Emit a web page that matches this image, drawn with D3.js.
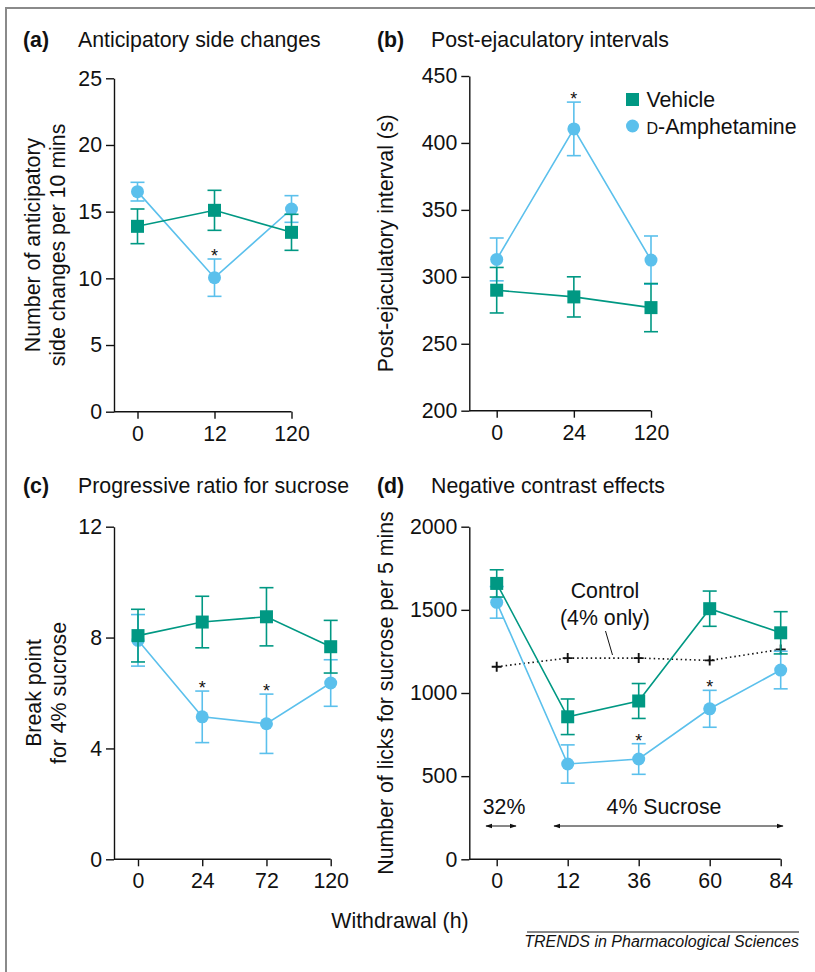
<!DOCTYPE html>
<html>
<head>
<meta charset="utf-8">
<script src="https://cdn.jsdelivr.net/npm/d3@7"></script>
<style>
  body { margin: 0; background: #fff; }
  svg text { font-family: 'Liberation Sans', Arial, Helvetica, sans-serif; }
</style>
</head>
<body>
<svg id="chart" width="815" height="972"></svg>
<script>
// ---- data ----
// (a) anticipatory side changes
const aHours = ["0", "12", "120"];
const aVehicle = [13.9, 15.1, 13.45];
const aVehicleErr = [1.3, 1.5, 1.35];
const aAmph = [16.5, 10.05, 15.2];
const aAmphErr = [0.7, 1.4, 1.0];
const aSig = ["12"];
const aTicks = [0, 5, 10, 15, 20, 25];

// (b) post-ejaculatory intervals
const bHours = ["0", "24", "120"];
const bVehicle = [290, 285, 277];
const bVehicleErr = [17, 15, 18];
const bAmph = [313, 410.5, 312.5];
const bAmphErr = [16, 20, 18];
const bSig = ["24"];
const bTicks = [200, 250, 300, 350, 400, 450];

// (c) progressive ratio
const cHours = ["0", "24", "72", "120"];
const cVehicle = [8.07, 8.56, 8.75, 7.67];
const cVehicleErr = [0.95, 0.93, 1.05, 0.95];
const cAmph = [7.9, 5.14, 4.89, 6.36];
const cAmphErr = [0.93, 0.93, 1.07, 0.84];
const cSig = ["24", "72"];
const cTicks = [0, 4, 8, 12];

// (d) negative contrast
const dHours = ["0", "12", "36", "60", "84"];
const dVehicle = [1659, 857, 952, 1507, 1362];
const dVehicleErr = [82, 107, 105, 106, 127];
const dAmph = [1545, 573, 603, 905, 1138];
const dAmphErr = [95, 115, 92, 111, 113];
const dControl = [1158, 1210, 1210, 1196, 1262];
const dSig = ["36", "60"];
const dTicks = [0, 500, 1000, 1500, 2000];

const TEAL = "#009883";
const BLUE = "#5BC0EC";
const FS = 21.3;

const svg = d3.select("#chart");
svg.append("rect").attr("width", 815).attr("height", 972).attr("fill", "#fff");

// frame (only top and left edges visible)
svg.append("path")
  .attr("d", "M6,972V8H815")
  .attr("fill", "none").attr("stroke", "#8a8a8a").attr("stroke-width", 2);

// ---- panel drawing ----
function drawPanel(p) {
  const g = svg.append("g");
  const x = d3.scalePoint().domain(p.hours).range(p.xRange);
  const y = d3.scaleLinear().domain(p.yDomain).range([p.y0, p.y1]);

  // y axis
  const ya = g.append("g")
    .attr("transform", `translate(${p.axisX},0)`)
    .call(d3.axisLeft(y).tickValues(p.yTicks).tickFormat(d3.format("d"))
      .tickSize(8).tickSizeOuter(0).tickPadding(4));

  // x axis
  const xa = g.append("g")
    .attr("transform", `translate(0,${p.y0})`)
    .call(d3.axisBottom(x).tickSize(7).tickPadding(7));
  xa.select(".domain").attr("d", `M${p.axisX},0H${p.xRange[1]}`);

  [ya, xa].forEach(a => {
    a.selectAll("path, line").attr("stroke", "#111").attr("stroke-width", 1.4);
    a.selectAll("text").attr("font-size", FS).attr("fill", "#111")
      .attr("font-family", "'Liberation Sans', Arial, sans-serif");
  });

  // y label lines
  p.yLabel.forEach((t, i) => {
    g.append("text")
      .attr("transform", `translate(${p.yLabelX[i]},${(p.y0 + p.y1) / 2}) rotate(-90)`)
      .attr("text-anchor", "middle")
      .attr("font-size", FS).attr("fill", "#111")
      .text(t);
  });

  // panel letter + title
  g.append("text").attr("x", p.letterX).attr("y", p.titleY)
    .attr("font-size", FS).attr("font-weight", "bold").attr("fill", "#111")
    .text(p.letter);
  g.append("text").attr("x", p.titleX).attr("y", p.titleY)
    .attr("font-size", FS).attr("fill", "#111")
    .text(p.title);

  // series
  function series(vals, errs, color, shape) {
    const pts = p.hours.map((h, i) => ({ h, v: vals[i], e: errs[i] }));
    const sg = g.append("g");
    sg.append("path")
      .datum(pts)
      .attr("fill", "none").attr("stroke", color).attr("stroke-width", 1.6)
      .attr("d", d3.line().x(d => x(d.h)).y(d => y(d.v)));
    const eb = sg.selectAll("g.err").data(pts).enter().append("g")
      .attr("stroke", color).attr("stroke-width", 1.6);
    eb.append("line")
      .attr("x1", d => x(d.h)).attr("x2", d => x(d.h))
      .attr("y1", d => y(d.v + d.e)).attr("y2", d => y(d.v - d.e));
    eb.append("line")
      .attr("x1", d => x(d.h) - 7).attr("x2", d => x(d.h) + 7)
      .attr("y1", d => y(d.v + d.e)).attr("y2", d => y(d.v + d.e));
    eb.append("line")
      .attr("x1", d => x(d.h) - 7).attr("x2", d => x(d.h) + 7)
      .attr("y1", d => y(d.v - d.e)).attr("y2", d => y(d.v - d.e));
    if (shape === "square") {
      sg.selectAll("rect.m").data(pts).enter().append("rect")
        .attr("x", d => x(d.h) - 6.5).attr("y", d => y(d.v) - 6.5)
        .attr("width", 13).attr("height", 13).attr("fill", color);
    } else {
      sg.selectAll("circle.m").data(pts).enter().append("circle")
        .attr("cx", d => x(d.h)).attr("cy", d => y(d.v))
        .attr("r", 6.5).attr("fill", color);
    }
  }

  if (p.control) {
    g.append("path")
      .datum(p.control)
      .attr("fill", "none").attr("stroke", "#111").attr("stroke-width", 1.6)
      .attr("stroke-dasharray", "1.5,3")
      .attr("d", d3.line().x((d, i) => x(p.hours[i])).y(d => y(d)));
    p.control.forEach((v, i) => {
      const cx = x(p.hours[i]), cy = y(v);
      g.append("path")
        .attr("d", `M${cx - 5},${cy}H${cx + 5}M${cx},${cy - 5}V${cy + 5}`)
        .attr("stroke", "#111").attr("stroke-width", 1.9);
    });
  }

  series(p.amph, p.amphErr, BLUE, "circle");
  series(p.vehicle, p.vehicleErr, TEAL, "square");

  // significance marks above amphetamine error bars
  p.sig.forEach(h => {
    const i = p.hours.indexOf(h);
    g.append("text")
      .attr("x", x(h)).attr("y", y(p.amph[i] + p.amphErr[i]) + 3)
      .attr("text-anchor", "middle").attr("font-size", 18).attr("fill", "#111")
      .text("*");
  });

  return { g, x, y };
}

drawPanel({
  hours: aHours, vehicle: aVehicle, vehicleErr: aVehicleErr, amph: aAmph, amphErr: aAmphErr,
  sig: aSig, yTicks: aTicks, yDomain: [0, 25],
  xRange: [137.5, 291.5], axisX: 114, y0: 411.7, y1: 78.3,
  yLabel: ["Number of anticipatory", "side changes per 10 mins"], yLabelX: [39.5, 64.5],
  letter: "(a)", letterX: 23, title: "Anticipatory side changes", titleX: 78, titleY: 47
});

drawPanel({
  hours: bHours, vehicle: bVehicle, vehicleErr: bVehicleErr, amph: bAmph, amphErr: bAmphErr,
  sig: bSig, yTicks: bTicks, yDomain: [200, 450],
  xRange: [496.7, 651], axisX: 469.3, y0: 410.7, y1: 76,
  yLabel: ["Post-ejaculatory interval (s)"], yLabelX: [393],
  letter: "(b)", letterX: 377, title: "Post-ejaculatory intervals", titleX: 431, titleY: 47
});

drawPanel({
  hours: cHours, vehicle: cVehicle, vehicleErr: cVehicleErr, amph: cAmph, amphErr: cAmphErr,
  sig: cSig, yTicks: cTicks, yDomain: [0, 12],
  xRange: [138, 330.7], axisX: 114, y0: 859.3, y1: 526.7,
  yLabel: ["Break point", "for 4% sucrose"], yLabelX: [41, 65.5],
  letter: "(c)", letterX: 23, title: "Progressive ratio for sucrose", titleX: 78, titleY: 493
});

const pd = drawPanel({
  hours: dHours, vehicle: dVehicle, vehicleErr: dVehicleErr, amph: dAmph, amphErr: dAmphErr,
  control: dControl,
  sig: dSig, yTicks: dTicks, yDomain: [0, 2000],
  xRange: [496.7, 780.7], axisX: 469.3, y0: 859.3, y1: 526.7,
  yLabel: ["Number of licks for sucrose per 5 mins"], yLabelX: [393],
  letter: "(d)", letterX: 377, title: "Negative contrast effects", titleX: 431, titleY: 493
});

// ---- panel (d) annotations ----
const ann = pd.g;
ann.append("text").attr("x", 605).attr("y", 598).attr("text-anchor", "middle")
  .attr("font-size", FS).attr("fill", "#111").text("Control");
ann.append("text").attr("x", 605).attr("y", 625).attr("text-anchor", "middle")
  .attr("font-size", FS).attr("fill", "#111").text("(4% only)");
ann.append("line").attr("x1", 605.5).attr("y1", 631).attr("x2", 612.5).attr("y2", 655)
  .attr("stroke", "#111").attr("stroke-width", 1);

const defs = svg.append("defs");
defs.append("marker").attr("id", "ah").attr("viewBox", "0 0 10 10")
  .attr("refX", 9).attr("refY", 5).attr("markerWidth", 7).attr("markerHeight", 7)
  .attr("orient", "auto-start-reverse").attr("markerUnits", "userSpaceOnUse")
  .append("path").attr("d", "M0,1.5L10,5L0,8.5Z").attr("fill", "#111");

ann.append("text").attr("x", 504).attr("y", 814).attr("text-anchor", "middle")
  .attr("font-size", FS).attr("fill", "#111").text("32%");
ann.append("line").attr("x1", 486).attr("x2", 516).attr("y1", 826).attr("y2", 826)
  .attr("stroke", "#111").attr("stroke-width", 1)
  .attr("marker-start", "url(#ah)").attr("marker-end", "url(#ah)");
ann.append("text").attr("x", 664).attr("y", 814).attr("text-anchor", "middle")
  .attr("font-size", FS).attr("fill", "#111").text("4% Sucrose");
ann.append("line").attr("x1", 554).attr("x2", 783).attr("y1", 826).attr("y2", 826)
  .attr("stroke", "#111").attr("stroke-width", 1)
  .attr("marker-start", "url(#ah)").attr("marker-end", "url(#ah)");

// ---- legend (in panel b) ----
const leg = svg.append("g");
leg.append("rect").attr("x", 626).attr("y", 93).attr("width", 13).attr("height", 13).attr("fill", TEAL);
leg.append("text").attr("x", 646.5).attr("y", 107).attr("font-size", FS).attr("fill", "#111").text("Vehicle");
leg.append("circle").attr("cx", 632.5).attr("cy", 126).attr("r", 6.5).attr("fill", BLUE);
const amphLabel = leg.append("text").attr("x", 646.5).attr("y", 133.5).attr("font-size", FS).attr("fill", "#111");
amphLabel.append("tspan").attr("font-size", 16).text("D");
amphLabel.append("tspan").text("-Amphetamine");

// ---- shared footer ----
svg.append("text").attr("x", 400).attr("y", 927.5).attr("text-anchor", "middle")
  .attr("font-size", FS).attr("fill", "#111").text("Withdrawal (h)");
svg.append("line").attr("x1", 527).attr("x2", 799).attr("y1", 932).attr("y2", 932)
  .attr("stroke", "#111").attr("stroke-width", 1);
svg.append("text").attr("x", 799).attr("y", 947).attr("text-anchor", "end")
  .attr("font-size", 16).attr("font-style", "italic").attr("fill", "#111")
  .text("TRENDS in Pharmacological Sciences");
</script>
</body>
</html>
